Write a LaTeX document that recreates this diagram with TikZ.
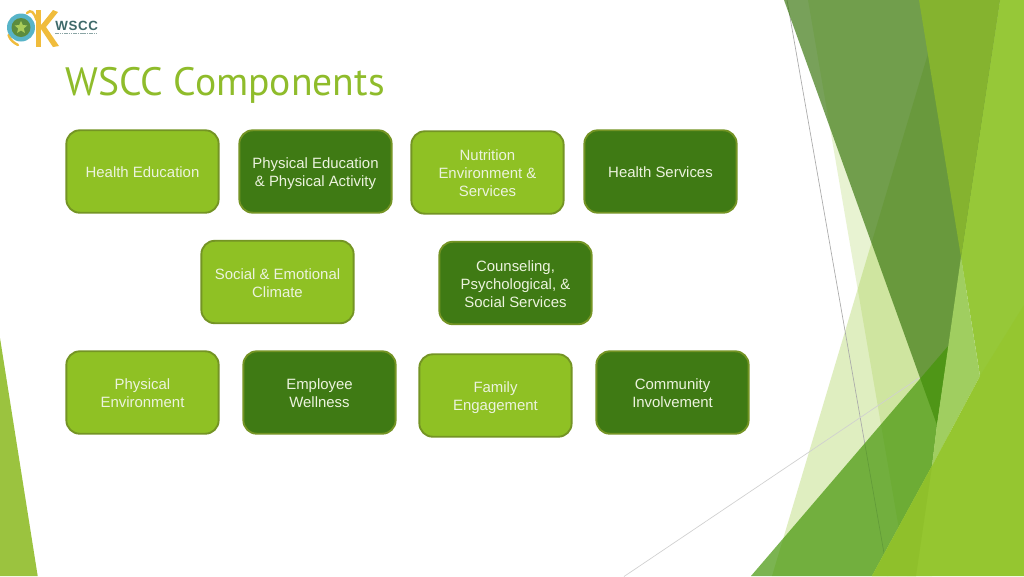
\documentclass[tikz,border=0pt]{standalone}
\usepackage{fontspec}
\setmainfont{Liberation Sans}
\newfontfamily\titlefont{PT Sans}
\usetikzlibrary{shapes.geometric}
\definecolor{boxlight}{RGB}{143,193,36}
\definecolor{boxdark}{RGB}{63,122,20}
\definecolor{boxedge}{RGB}{116,148,36}
\definecolor{boxtext}{RGB}{236,243,222}
\definecolor{lightfacet}{RGB}{143,195,31}
\definecolor{darkfacet}{RGB}{63,122,20}
\definecolor{olivefacet}{RGB}{150,200,56}
\definecolor{olivedark}{RGB}{133,179,47}
\definecolor{lowfacet}{RGB}{68,149,8}
\definecolor{brightfacet}{RGB}{149,198,48}
\definecolor{brightshade}{RGB}{143,192,43}
\definecolor{paleface}{RGB}{160,206,96}
\definecolor{titlegreen}{RGB}{143,188,43}
\definecolor{logoyellow}{RGB}{240,188,60}
\definecolor{logoblue}{RGB}{88,180,200}
\definecolor{logoteal}{RGB}{62,105,105}
\definecolor{logogreen}{RGB}{92,140,62}
\definecolor{logostarc}{RGB}{170,205,90}
\newcommand{\lbl}[2]{\vbox{\kern#1\hbox{\begin{tabular}{@{}c@{}}#2\end{tabular}}}}
\tikzset{
  x=0.75pt,y=-0.75pt,
  facet/.style={draw=none},
  hairline/.style={line width=0.5pt},
  comp/.style={rounded corners=10pt,draw=boxedge,line width=1.4pt,text=boxtext,
    minimum width=114.2pt,minimum height=61.8pt,inner sep=0pt,
    font=\fontsize{11.2}{13.5}\selectfont,anchor=center},
  complight/.style={comp,fill=boxlight},
  compdark/.style={comp,fill=boxdark}
}
\begin{document}
\begin{tikzpicture}
\useasboundingbox (0,0) rectangle (1024,576);
\fill[white] (0,0) rectangle (1024,576);
% left wedge
\fill[facet,fill={rgb,255:red,155;green,195;blue,63}] (0,338) -- (37.7,576) -- (0,576) -- cycle;
% thin lines
\coordinate (la) at (787,0); \coordinate (lb) at (888,576);
\coordinate (lc) at (624,576.5); \coordinate (ld) at (919,378);
% light facets
\fill[facet,fill=lightfacet,fill opacity=.2] (808,0) -- (907,576) -- (932,576) -- (1000,0) -- cycle;
\fill[facet,fill=lightfacet,fill opacity=.28] (944,0) -- (772,576) -- (932,576) -- (1000,0) -- cycle;
\draw[hairline,color={rgb,255:red,170;green,170;blue,170}] (la) -- (lb);
\draw[hairline,color={rgb,255:red,208;green,208;blue,208}] (lc) -- (ld);
% dark facet
\fill[facet,fill=darkfacet,fill opacity=.7] (784,0) -- (1000,0) -- (937,425) -- cycle;
% olive facet
\fill[facet,fill=olivefacet] (1000,0) -- (961,257) -- (980,376) -- (1000,400) -- (1024,400) -- (1024,0) -- cycle;
\fill[facet,fill=olivedark] (919,0) -- (1000,0) -- (961,257) -- cycle;
% low facet
\fill[facet,fill=lowfacet,fill opacity=.7] (751,576) -- (949,345) -- (937,425) -- (932,466) -- (872,576) -- cycle;
% pale facet
\fill[facet,fill=paleface] (961,257) -- (980,376) -- (932,466) -- (937,425) -- cycle;
% bright facet
\fill[facet,fill=brightfacet] (872,576) -- (932,466) -- (980,376) -- (1024,305) -- (1024,576) -- cycle;
\fill[facet,fill=brightshade] (872,576) -- (932,466) -- (916,576) -- cycle;
% logo
\draw[logoyellow,line width=1.8pt,line cap=round] (27,13) .. controls (31,9) and (34,12) .. (36.5,20);
\draw[logoyellow,line width=1.8pt,line cap=round] (8.5,35) .. controls (10,40) and (14,43) .. (18,45);
\fill[logoblue] (21,27.5) circle (14);
\fill[logogreen] (21,27.5) circle (9.5);
\node[star,star points=5,star point ratio=2.2,fill=logostarc,minimum size=10pt,inner sep=0pt] (logostar) at (21,27.5) {};
\fill[logoyellow] (36,10) rectangle (41,47);
\fill[logoyellow] (41,25) -- (53,10) -- (58,12) -- (46,27) -- (59,46) -- (53,47) -- (41,29) -- cycle;
\node[logoteal,font=\bfseries\fontsize{10}{11}\selectfont,anchor=base west,inner sep=0pt] (logotext) at (55,30.5) {W\kern0.5pt S\kern0.5pt C\kern0.5pt C};
\draw[logoteal!60!white,line width=0.8pt,dash pattern=on 1.2pt off 0.5pt] (55,33.8) -- (98,33.8);
% title
\node[titlegreen,font=\titlefont\fontsize{29.7}{32}\selectfont,anchor=base west,inner sep=0pt] (title) at (65,95.5) {WSCC Components};
% components
\node[complight] (b1) at (142.5,171.5) {\lbl{3pt}{Health Education}};
\node[compdark] (b2) at (315.5,171.5) {\lbl{3pt}{Physical Education\\\& Physical Activity}};
\node[complight] (b3) at (487.5,172.5) {\lbl{3pt}{Nutrition\\Environment \&\\Services}};
\node[compdark] (b4) at (660.5,171.5) {\lbl{3pt}{Health Services}};
\node[complight] (b5) at (277.5,282) {\lbl{4pt}{Social \& Emotional\\Climate}};
\node[compdark] (b6) at (515.5,283) {\lbl{4.5pt}{Counseling,\\Psychological, \&\\Social Services}};
\node[complight] (b7) at (142.5,392.5) {\lbl{3pt}{Physical\\Environment}};
\node[compdark] (b8) at (319.5,392.5) {\lbl{3pt}{Employee\\Wellness}};
\node[complight] (b9) at (495.5,395.5) {\lbl{3pt}{Family\\Engagement}};
\node[compdark] (b10) at (672.5,392.5) {\lbl{3pt}{Community\\Involvement}};
\end{tikzpicture}
\end{document}
